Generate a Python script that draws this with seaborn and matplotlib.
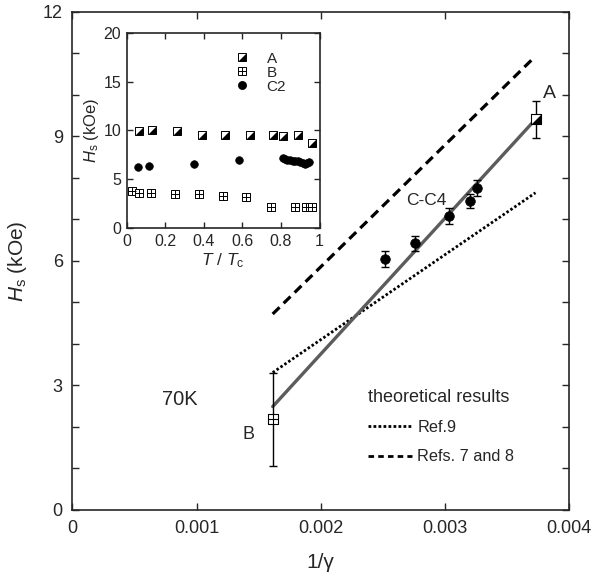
import numpy as np
import pandas as pd
import matplotlib
matplotlib.use("Agg")
import matplotlib.pyplot as plt
import seaborn as sns
from matplotlib.lines import Line2D
from matplotlib.legend_handler import HandlerTuple
from matplotlib.ticker import MultipleLocator, FuncFormatter

# ---------------- main panel data ----------------
inv_gamma_C = [0.002518, 0.002757, 0.003036, 0.003202, 0.003256]
Hs_C = [6.04, 6.42, 7.08, 7.44, 7.75]
Hs_C_err = [0.19, 0.18, 0.19, 0.17, 0.19]

inv_gamma_A = [0.003732]
Hs_A = [9.41]
Hs_A_err = [0.45]

inv_gamma_B = [0.001613]
Hs_B = [2.18]
Hs_B_err = [1.12]

fit_x = [0.001613, 0.003715]
fit_y = [2.49, 9.36]
ref9_x = [0.001613, 0.00373]
ref9_y = [3.31, 7.64]
ref78_x = [0.001613, 0.00372]
ref78_y = [4.72, 10.9]

x_ticks = [0, 0.001, 0.002, 0.003, 0.004]
y_ticks = [0, 3, 6, 9, 12]

# ---------------- inset data ----------------
T_A = [0.066, 0.13, 0.26, 0.39, 0.51, 0.64, 0.76, 0.81, 0.89, 0.96]
Hs_inA = [9.95, 10.1, 9.95, 9.5, 9.5, 9.5, 9.5, 9.4, 9.5, 8.7]
T_B = [0.026, 0.066, 0.126, 0.253, 0.374, 0.5, 0.62, 0.746, 0.874, 0.93, 0.96]
Hs_inB = [3.77, 3.64, 3.64, 3.53, 3.53, 3.3, 3.2, 2.2, 2.2, 2.2, 2.2]
T_C2 = [0.06, 0.117, 0.35, 0.58, 0.81, 0.82, 0.83, 0.845, 0.86, 0.875,
        0.89, 0.90, 0.915, 0.925, 0.935, 0.945]
Hs_inC2 = [6.28, 6.35, 6.6, 6.96, 7.2, 7.1, 7.0, 6.95, 6.9, 6.85,
           6.85, 6.8, 6.7, 6.6, 6.7, 6.8]

sns.set_style("ticks")
plt.rcParams["font.family"] = ["Liberation Sans", "DejaVu Sans"]
plt.rcParams["mathtext.fontset"] = "custom"
plt.rcParams["mathtext.rm"] = "Liberation Sans"
plt.rcParams["mathtext.it"] = "Liberation Sans:italic"
plt.rcParams["axes.linewidth"] = 1.2

fig = plt.figure(figsize=(6.05, 5.8), dpi=100)
ax = fig.add_axes([0.1198, 0.1207, 0.8207, 0.8591])

half_tri = [(-1, -1), (1, -1), (1, 1), (-1, -1)]


def half_square(axis, x, y, size, lw):
    sns.scatterplot(x=x, y=y, ax=axis, marker="s", s=size, color="white",
                    edgecolor="black", linewidth=lw, zorder=5)
    sns.scatterplot(x=x, y=y, ax=axis, marker=half_tri, s=size, color="black",
                    edgecolor="black", linewidth=0, zorder=6)


def plus_square(axis, x, y, size, lw):
    sns.scatterplot(x=x, y=y, ax=axis, marker="s", s=size, color="white",
                    edgecolor="black", linewidth=lw, zorder=5)
    sns.scatterplot(x=x, y=y, ax=axis, marker="+", s=size, color="black",
                    edgecolor="black", linewidth=lw, zorder=6)


# lines
sns.lineplot(x=ref78_x, y=ref78_y, ax=ax, color="black", lw=2.3,
             linestyle=(0, (3.0, 1.8)))
sns.lineplot(x=ref9_x, y=ref9_y, ax=ax, color="black", lw=2.0,
             linestyle=(0, (0.9, 0.8)))
sns.lineplot(x=fit_x, y=fit_y, ax=ax, color="#5c5c5c", lw=2.4)

# error bars
ax.errorbar(inv_gamma_C, Hs_C, yerr=Hs_C_err, fmt="none", ecolor="black",
            elinewidth=1.0, capsize=3, capthick=1.0, zorder=3)
ax.errorbar(inv_gamma_A, Hs_A, yerr=Hs_A_err, fmt="none", ecolor="black",
            elinewidth=1.0, capsize=3, capthick=1.0, zorder=3)
ax.errorbar(inv_gamma_B, Hs_B, yerr=Hs_B_err, fmt="none", ecolor="black",
            elinewidth=1.0, capsize=3, capthick=1.0, zorder=3)

# points
sns.scatterplot(x=inv_gamma_C, y=Hs_C, ax=ax, marker="o", s=48, color="black",
                edgecolor="black", linewidth=0.5, zorder=5)
half_square(ax, inv_gamma_A, Hs_A, 62, 0.8)
plus_square(ax, inv_gamma_B, Hs_B, 62, 0.8)

ax.set_xlim(0, 0.004)
ax.set_ylim(0, 12)
ax.set_xticks(x_ticks)
ax.set_yticks(y_ticks)
ax.xaxis.set_major_formatter(FuncFormatter(lambda v, p: f"{v:g}"))
ax.yaxis.set_minor_locator(MultipleLocator(1))
ax.tick_params(which="both", direction="in", top=True, right=True,
               length=5, width=1.0, labelsize=13, pad=7)
ax.set_xlabel("1/γ", fontsize=15, labelpad=12)
ax.set_ylabel(r"$H_\mathrm{s}$ (kOe)", fontsize=15, labelpad=10)
for sp in ax.spines.values():
    sp.set_visible(True)

ax.text(0.003839, 10.02, "A", fontsize=14, ha="center", va="center")
ax.text(0.001422, 1.83, "B", fontsize=13, ha="center", va="center")
ax.text(0.002854, 7.46, "C-C4", fontsize=12.5, ha="center", va="center")
ax.text(0.000866, 2.67, "70K", fontsize=14.5, ha="center", va="center")

leg_handles = [Line2D([], [], color="black", lw=2.0, linestyle=(0, (1.0, 0.8))),
               Line2D([], [], color="black", lw=2.0, linestyle=(0, (2.0, 1.5)))]
leg = ax.legend(handles=leg_handles, labels=["Ref.9", "Refs. 7 and 8"],
                title="theoretical results", alignment="left", frameon=False,
                loc="upper left", bbox_to_anchor=(0.595, 0.243),
                fontsize=11.7, title_fontsize=13, handlelength=2.7,
                handletextpad=0.35, labelspacing=0.9, borderpad=0,
                borderaxespad=0)
leg._legend_box.sep = 10

# ---------------- inset ----------------
axi = fig.add_axes([0.2094, 0.6069, 0.3187, 0.3362])
half_square(axi, T_A, Hs_inA, 30, 0.7)
plus_square(axi, T_B, Hs_inB, 30, 0.7)
sns.scatterplot(x=T_C2, y=Hs_inC2, ax=axi, marker="o", s=30, color="black",
                edgecolor="black", linewidth=0.5, zorder=5)
axi.set_xlim(0, 1)
axi.set_ylim(0, 20)
axi.set_xticks([0, 0.2, 0.4, 0.6, 0.8, 1.0])
axi.set_yticks([0, 5, 10, 15, 20])
axi.xaxis.set_major_formatter(FuncFormatter(lambda v, p: f"{v:g}"))
axi.tick_params(which="both", direction="in", top=True, right=True,
                length=4, width=1.0, labelsize=11.5, pad=4)
axi.set_xlabel(r"$T$ / $T_\mathrm{c}$", fontsize=12.5, labelpad=2)
axi.set_ylabel(r"$H_\mathrm{s}$ (kOe)", fontsize=12, labelpad=2)

hA = (Line2D([], [], marker="s", ms=5.4, mfc="white", mec="black", mew=0.7, ls="none"),
      Line2D([], [], marker=half_tri, ms=5.4, mfc="black", mec="black", mew=0, ls="none"))
hB = (Line2D([], [], marker="s", ms=5.4, mfc="white", mec="black", mew=0.7, ls="none"),
      Line2D([], [], marker="+", ms=5.4, mfc="black", mec="black", mew=0.7, ls="none"))
hC = Line2D([], [], marker="o", ms=5.4, mfc="black", mec="black", ls="none")
axi.legend(handles=[hA, hB, hC], labels=["A", "B", "C2"],
           handler_map={tuple: HandlerTuple(ndivide=1, pad=0)},
           frameon=False, loc="upper left", bbox_to_anchor=(0.559, 0.905),
           fontsize=11, handlelength=1.0, handletextpad=1.1,
           labelspacing=0.0, borderpad=0, borderaxespad=0)

fig.savefig("out.png", dpi=100)
